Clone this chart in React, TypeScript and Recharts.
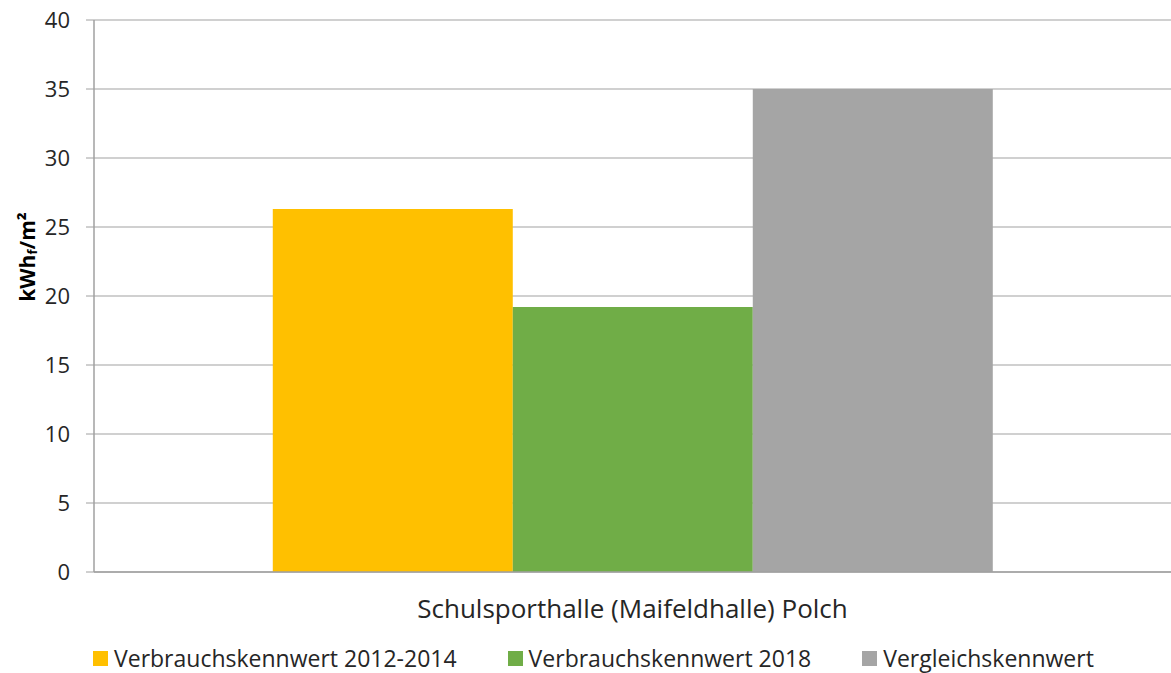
import React from "react";
import { Bar, BarChart, CartesianGrid, Legend, XAxis, YAxis } from "recharts";

const categories = ["Schulsporthalle (Maifeldhalle) Polch"];
const kennwert2012_2014 = [26.3];
const kennwert2018 = [19.2];
const vergleichskennwert = [35];
const yTicks = [0, 5, 10, 15, 20, 25, 30, 35, 40];

const seriesInfo = [
  { key: "v1", name: "Verbrauchskennwert 2012-2014", color: "#FFC000" },
  { key: "v2", name: "Verbrauchskennwert 2018", color: "#70AD47" },
  { key: "v3", name: "Vergleichskennwert", color: "#A5A5A5" },
];

const data = categories.map((c, i) => ({
  name: c,
  v1: kennwert2012_2014[i],
  v2: kennwert2018[i],
  v3: vergleichskennwert[i],
}));

const font = "'Open Sans', sans-serif";

function YLabel() {
  return (
    <text
      x={27}
      y={257}
      transform="rotate(-90 27 257)"
      textAnchor="middle"
      dominantBaseline="central"
      fontFamily={font}
      fontWeight="bold"
      fontSize={21}
      fill="#000"
    >
      kWh
      <tspan fontSize={13} dy={5}>f</tspan>
      <tspan dy={-5}>/m²</tspan>
    </text>
  );
}

function LegendContent() {
  return (
    <div style={{ display: "flex", alignItems: "center", height: 26, paddingLeft: 93, fontFamily: font, fontSize: 23, color: "#262626", whiteSpace: "nowrap" }}>
      {seriesInfo.map((s, i) => (
        <div key={s.key} style={{ display: "flex", alignItems: "center", marginRight: i < 2 ? 51 : 0 }}>
          <span style={{ width: 15, height: 15, background: s.color, display: "inline-block", marginRight: 6 }} />
          <span>{s.name}</span>
        </div>
      ))}
    </div>
  );
}

export default function App() {
  return (
    <div style={{ position: "absolute", left: 0, top: 0, width: 1171, height: 673, background: "#fff" }}>
      <BarChart
        width={1171}
        height={673}
        data={data}
        margin={{ top: 20, right: 0, left: 0, bottom: 2 }}
        barCategoryGap="16.6%"
        barGap={0}
      >
        <CartesianGrid vertical={false} stroke="#c0c0c0" strokeWidth={1.5} />
        <XAxis
          dataKey="name"
          height={73}
          tickLine={false}
          axisLine={{ stroke: "#a0a0a0", strokeWidth: 1.5 }}
          tick={{ fontFamily: font, fontSize: 26, fill: "#262626" }}
          dy={20}
        />
        <YAxis
          width={94}
          domain={[0, 40]}
          ticks={yTicks}
          interval={0}
          tickSize={8}
          tickMargin={16}
          tickLine={{ stroke: "#a0a0a0" }}
          axisLine={{ stroke: "#a0a0a0", strokeWidth: 1.5 }}
          tick={{ fontFamily: font, fontSize: 22, fill: "#262626" }}
          label={<YLabel />}
        />
        <Legend verticalAlign="bottom" content={<LegendContent />} />
        {seriesInfo.map((s) => (
          <Bar key={s.key} dataKey={s.key} name={s.name} fill={s.color} isAnimationActive={false} />
        ))}
      </BarChart>
    </div>
  );
}
